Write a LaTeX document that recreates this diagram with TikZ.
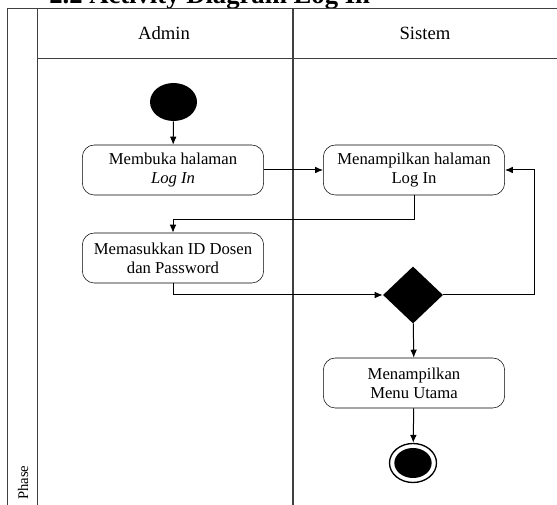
\documentclass[tikz,border=0pt]{standalone}
\usepackage{fontspec}
\setmainfont{Liberation Serif}
\usetikzlibrary{arrows.meta, shapes.geometric, positioning}

\begin{document}
\begin{tikzpicture}[x=0.75pt,y=-0.75pt,>={Latex[length=6pt,width=5pt]},
    lane/.style={draw=black!75,line width=1.1pt},
    aksi/.style={draw,rounded corners=9pt,minimum width=136pt,minimum height=37.5pt,
        align=center,font=\fontsize{12.5}{14}\selectfont},
    keputusan/.style={diamond,fill,minimum width=45pt,minimum height=42.75pt,inner sep=0pt},
    alur/.style={->,line width=0.75pt}]
\useasboundingbox (0,0) rectangle (557,505);
\clip (0,0) rectangle (557,505);
% judul
\node[anchor=base west,inner sep=0pt,font=\fontsize{20}{24}\selectfont\bfseries] (judul) at (49,4) {2.2 Activity Diagram Log In};
% swimlane
\draw[lane] (560,8.5) -- (7.5,8.5) -- (7.5,510);
\draw[lane] (37.5,8.5) -- (37.5,510);
\draw[lane] (293,8.5) -- (293,510);
\draw[lane] (37.5,58.5) -- (560,58.5);
\node[font=\fontsize{14}{16}\selectfont] (admin) at (164,33) {Admin};
\node[font=\fontsize{14}{16}\selectfont] (sistem) at (425,33) {Sistem};
\node[rotate=90,anchor=west,inner sep=0pt,font=\fontsize{11}{13}\selectfont] (phase) at (23,500) {Phase};

\node[ellipse,fill,minimum width=35.25pt,minimum height=28.5pt,inner sep=0pt] (mulai) at (173.5,102) {};
\node[aksi] (bukaLogin) at (173,170) {Membuka halaman\\\textit{Log In}};
\node[aksi] (tampilLogin) at (414,170) {Menampilkan halaman\\Log In};
\node[aksi] (masukID) at (173,258) {Memasukkan ID Dosen\\dan Password};
\node[keputusan] (cek) at (413,295) {};
\node[aksi] (tampilMenu) at (414,383) {Menampilkan\\Menu Utama};
\node[ellipse,draw,line width=1pt,minimum width=35.25pt,minimum height=29.25pt,inner sep=0pt] (selesai) at (413,463) {};
\node[ellipse,fill,minimum width=28pt,minimum height=22.5pt,inner sep=0pt] (selesaiIsi) at (selesai) {};

\coordinate (belok) at (414,220);
\coordinate (balik) at (534,295);

\draw[alur] (mulai) -- (bukaLogin);
\draw[alur] (bukaLogin) -- (tampilLogin);
\draw[alur] (tampilLogin) -- (belok) -| (masukID);
\draw[alur] (masukID) |- (cek);
\draw[alur] (cek) -- (balik) |- (tampilLogin);
\draw[alur] (cek) -- (tampilMenu);
\draw[alur] (tampilMenu) -- (selesai);
\end{tikzpicture}
\end{document}
